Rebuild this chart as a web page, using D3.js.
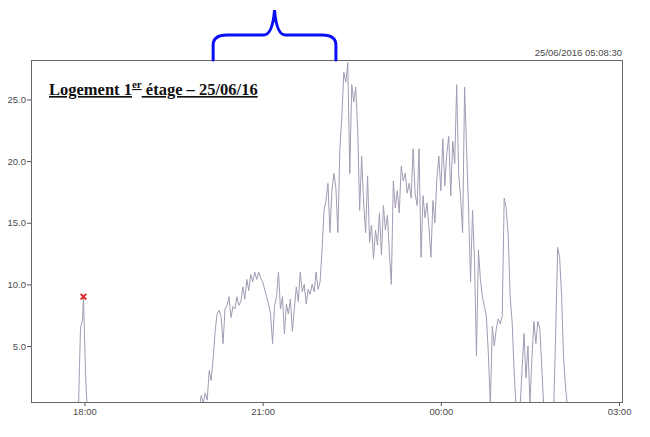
<!DOCTYPE html>
<html>
<head>
<meta charset="utf-8">
<script src="https://cdn.jsdelivr.net/npm/d3@7"></script>
<style>
    body { margin: 0; background: #fff; }
    .axis text { font-family: 'Liberation Sans Narrow', 'Arial Narrow', 'Liberation Sans', sans-serif; font-size: 9.5px; fill: #4a4a4a; }
    .axis line { stroke: #555; }
    .stamp { font-family: 'Liberation Sans Narrow', 'Arial Narrow', 'Liberation Sans', sans-serif; font-size: 9.5px; fill: #4a4a4a; }
    .title { font-family: 'Liberation Serif', 'Times New Roman', serif; font-weight: bold; font-size: 16.5px; fill: #111; text-decoration: underline; }
</style>
</head>
<body>
<svg id="chart"></svg>
<script>
const parseTime = d3.timeParse('%Y-%m-%d %H:%M');

// readings around the 18:00 spike, one per minute
const spikeStart = '2016-06-24 17:54';
const spikeStep = 1;
const spikeTemps = [0, 3.4, 6.4, 6.8, 7.1, 9.0, 6.0, 3.0, 1.0, 0];

// evening readings, one every 2 minutes
const eveningStart = '2016-06-24 19:56';
const eveningStep = 2;
const eveningTemps = [
    0, 1.0, 0.3, 1.2, 0.6, 3.0, 2.2, 4.0, 6.2, 7.6,
    7.9, 7.4, 5.2, 8.0, 8.3, 9.0, 7.3, 8.2, 8.0, 9.0,
    8.3, 8.6, 9.8, 8.8, 10.4, 9.5, 10.8, 10.2, 11.0, 10.4,
    11.0, 10.5, 10.2, 9.6, 9.0, 8.4, 7.6, 5.2, 8.2, 9.0,
    11.0, 8.0, 9.0, 6.0, 8.4, 7.6, 8.8, 6.2, 8.0, 9.8,
    8.6, 11.0, 9.4, 10.0, 8.4, 9.6, 9.2, 10.0, 9.4, 11.0,
    9.6, 10.2, 12.8, 16.0, 16.8, 18.2, 14.2, 17.6, 19.0, 17.8,
    14.2, 21.0, 23.6, 27.2, 26.4, 28.0, 19.0, 26.2, 24.8, 26.0,
    22.6, 16.0, 20.4, 16.6, 14.2, 18.8, 13.4, 14.8, 12.1, 14.4,
    13.2, 15.8, 12.4, 16.4, 14.4, 15.6, 12.6, 10.0, 18.4, 16.2,
    17.6, 15.8, 19.6, 18.4, 19.0, 17.4, 18.2, 17.0, 21.0, 17.4,
    16.4, 21.0, 12.2, 17.2, 15.4, 16.6, 14.6, 12.2, 16.8, 15.0,
    18.6, 20.4, 17.6, 21.8, 18.0, 20.6, 22.0, 17.2, 21.6, 19.8,
    26.2, 19.0, 17.0, 14.2, 26.0, 21.0, 16.2, 10.2, 16.0, 12.0,
    4.2, 12.8, 10.4, 9.0, 8.2, 7.4, 4.4, 0.2, 6.6, 5.0,
    6.4, 7.2, 6.8, 7.4, 17.0, 16.2, 14.0, 9.0, 7.0, 3.0,
    0.0, 0.2, 0.0, 3.0, 6.0, 2.4, 5.0, 0.4, 4.0, 7.0,
    5.2, 7.0, 6.4, 3.2, 0.0, 0.0, 0.0, 0.0, 0.0, 0.0,
    6.0, 13.0, 12.2, 9.0, 4.0, 1.6, 0.0
];

const alarmTime = '2016-06-24 17:59';
const alarmTemp = 9.0;

const timeDomain = ['2016-06-24 17:06', '2016-06-25 03:03'];
const tempDomain = [0.46, 28.2];
const tickTimes = ['2016-06-24 18:00', '2016-06-24 21:00', '2016-06-25 00:00', '2016-06-25 03:00'];
const tickTemps = [5, 10, 15, 20, 25];
const braceTimes = ['2016-06-24 20:10', '2016-06-24 22:14'];
const stamp = '25/06/2016 05:08:30';

class TemperatureChart {
    constructor(config_, segments_) {
        this.config = {
            svgElement: config_.svgElement,
            width: config_.width,
            height: config_.height,
            margin: config_.margin,
        };
        this.segments = segments_;
        this.initVis();
    }

    initVis() {
        const vis = this;

        vis.width = vis.config.width - vis.config.margin.left - vis.config.margin.right;
        vis.height = vis.config.height - vis.config.margin.top - vis.config.margin.bottom;

        vis.xScale = d3.scaleTime()
            .domain(timeDomain.map(parseTime))
            .range([0, vis.width]);

        vis.yScale = d3.scaleLinear()
            .domain(tempDomain)
            .range([vis.height, 0]);

        vis.xAxis = d3.axisBottom(vis.xScale)
            .tickValues(tickTimes.map(parseTime))
            .tickFormat(d3.timeFormat('%H:%M'))
            .tickSize(4)
            .tickPadding(2);

        vis.yAxis = d3.axisLeft(vis.yScale)
            .tickValues(tickTemps)
            .tickFormat(d3.format('.1f'))
            .tickSize(4)
            .tickPadding(1);

        vis.svg = d3.select(vis.config.svgElement)
            .attr('width', vis.config.width)
            .attr('height', vis.config.height);

        vis.chart = vis.svg.append('g')
            .attr('transform', `translate(${vis.config.margin.left},${vis.config.margin.top})`);

        vis.chart.append('clipPath')
            .attr('id', 'plot-clip')
          .append('rect')
            .attr('width', vis.width)
            .attr('height', vis.height);

        vis.xAxisG = vis.chart.append('g')
            .attr('class', 'axis x-axis')
            .attr('transform', `translate(0,${vis.height})`);

        vis.yAxisG = vis.chart.append('g')
            .attr('class', 'axis y-axis');

        vis.line = d3.line()
            .x(d => vis.xScale(d.date))
            .y(d => vis.yScale(d.temp));

        vis.renderVis();
    }

    renderVis() {
        const vis = this;

        vis.chart.append('g')
            .attr('clip-path', 'url(#plot-clip)')
          .selectAll('path')
            .data(vis.segments)
          .join('path')
            .attr('fill', 'none')
            .attr('stroke', '#a39bb3')
            .attr('stroke-width', 1)
            .attr('d', vis.line);

        // frame
        vis.chart.append('rect')
            .attr('x', 0.5)
            .attr('y', 0.5)
            .attr('width', vis.width)
            .attr('height', vis.height)
            .attr('fill', 'none')
            .attr('stroke', '#666');

        vis.chart.append('path')
            .attr('transform', `translate(${vis.xScale(parseTime(alarmTime))},${vis.yScale(alarmTemp)})`)
            .attr('d', d3.symbol(d3.symbolX, 22)())
            .attr('fill', 'none')
            .attr('stroke', '#e0262a')
            .attr('stroke-width', 1.8);

        vis.xAxisG.call(vis.xAxis).call(g => g.select('.domain').remove());
        vis.yAxisG.call(vis.yAxis).call(g => g.select('.domain').remove());

        vis.chart.append('text')
            .attr('class', 'stamp')
            .attr('x', vis.width)
            .attr('y', -4)
            .attr('text-anchor', 'end')
            .text(stamp);

        const title = vis.chart.append('text')
            .attr('class', 'title')
            .attr('x', 18)
            .attr('y', 35);
        title.append('tspan').text('Logement 1');
        title.append('tspan').attr('font-size', '11px').attr('dy', -7).text('er');
        title.append('tspan').attr('dy', 7).text(' étage – 25/06/16');

        // blue brace over the rise
        const xs = vis.xScale(parseTime(braceTimes[0]));
        const xe = vis.xScale(parseTime(braceTimes[1]));
        const xm = (xs + xe) / 2;
        const bh = -25, tip = -50;
        const brace = `M${xs},0 L${xs},${bh + 10} Q${xs},${bh} ${xs + 14},${bh}`
            + ` L${xm - 11},${bh} Q${xm - 2},${bh} ${xm},${tip}`
            + ` Q${xm + 2},${bh} ${xm + 11},${bh} L${xe - 14},${bh}`
            + ` Q${xe},${bh} ${xe},${bh + 10} L${xe},0`;
        vis.chart.append('path')
            .attr('d', brace)
            .attr('fill', 'none')
            .attr('stroke', '#0a10f5')
            .attr('stroke-width', 3)
            .attr('stroke-linecap', 'round');
    }
}

function buildSegment(start, step, temps) {
    const t0 = parseTime(start);
    return temps.map((temp, i) => ({ date: d3.timeMinute.offset(t0, i * step), temp: temp }));
}

const segments = [
    buildSegment(spikeStart, spikeStep, spikeTemps),
    buildSegment(eveningStart, eveningStep, eveningTemps)
];

new TemperatureChart({
    svgElement: '#chart',
    width: 650,
    height: 437,
    margin: { top: 60, right: 28, bottom: 35, left: 31 }
}, segments);
</script>
</body>
</html>
